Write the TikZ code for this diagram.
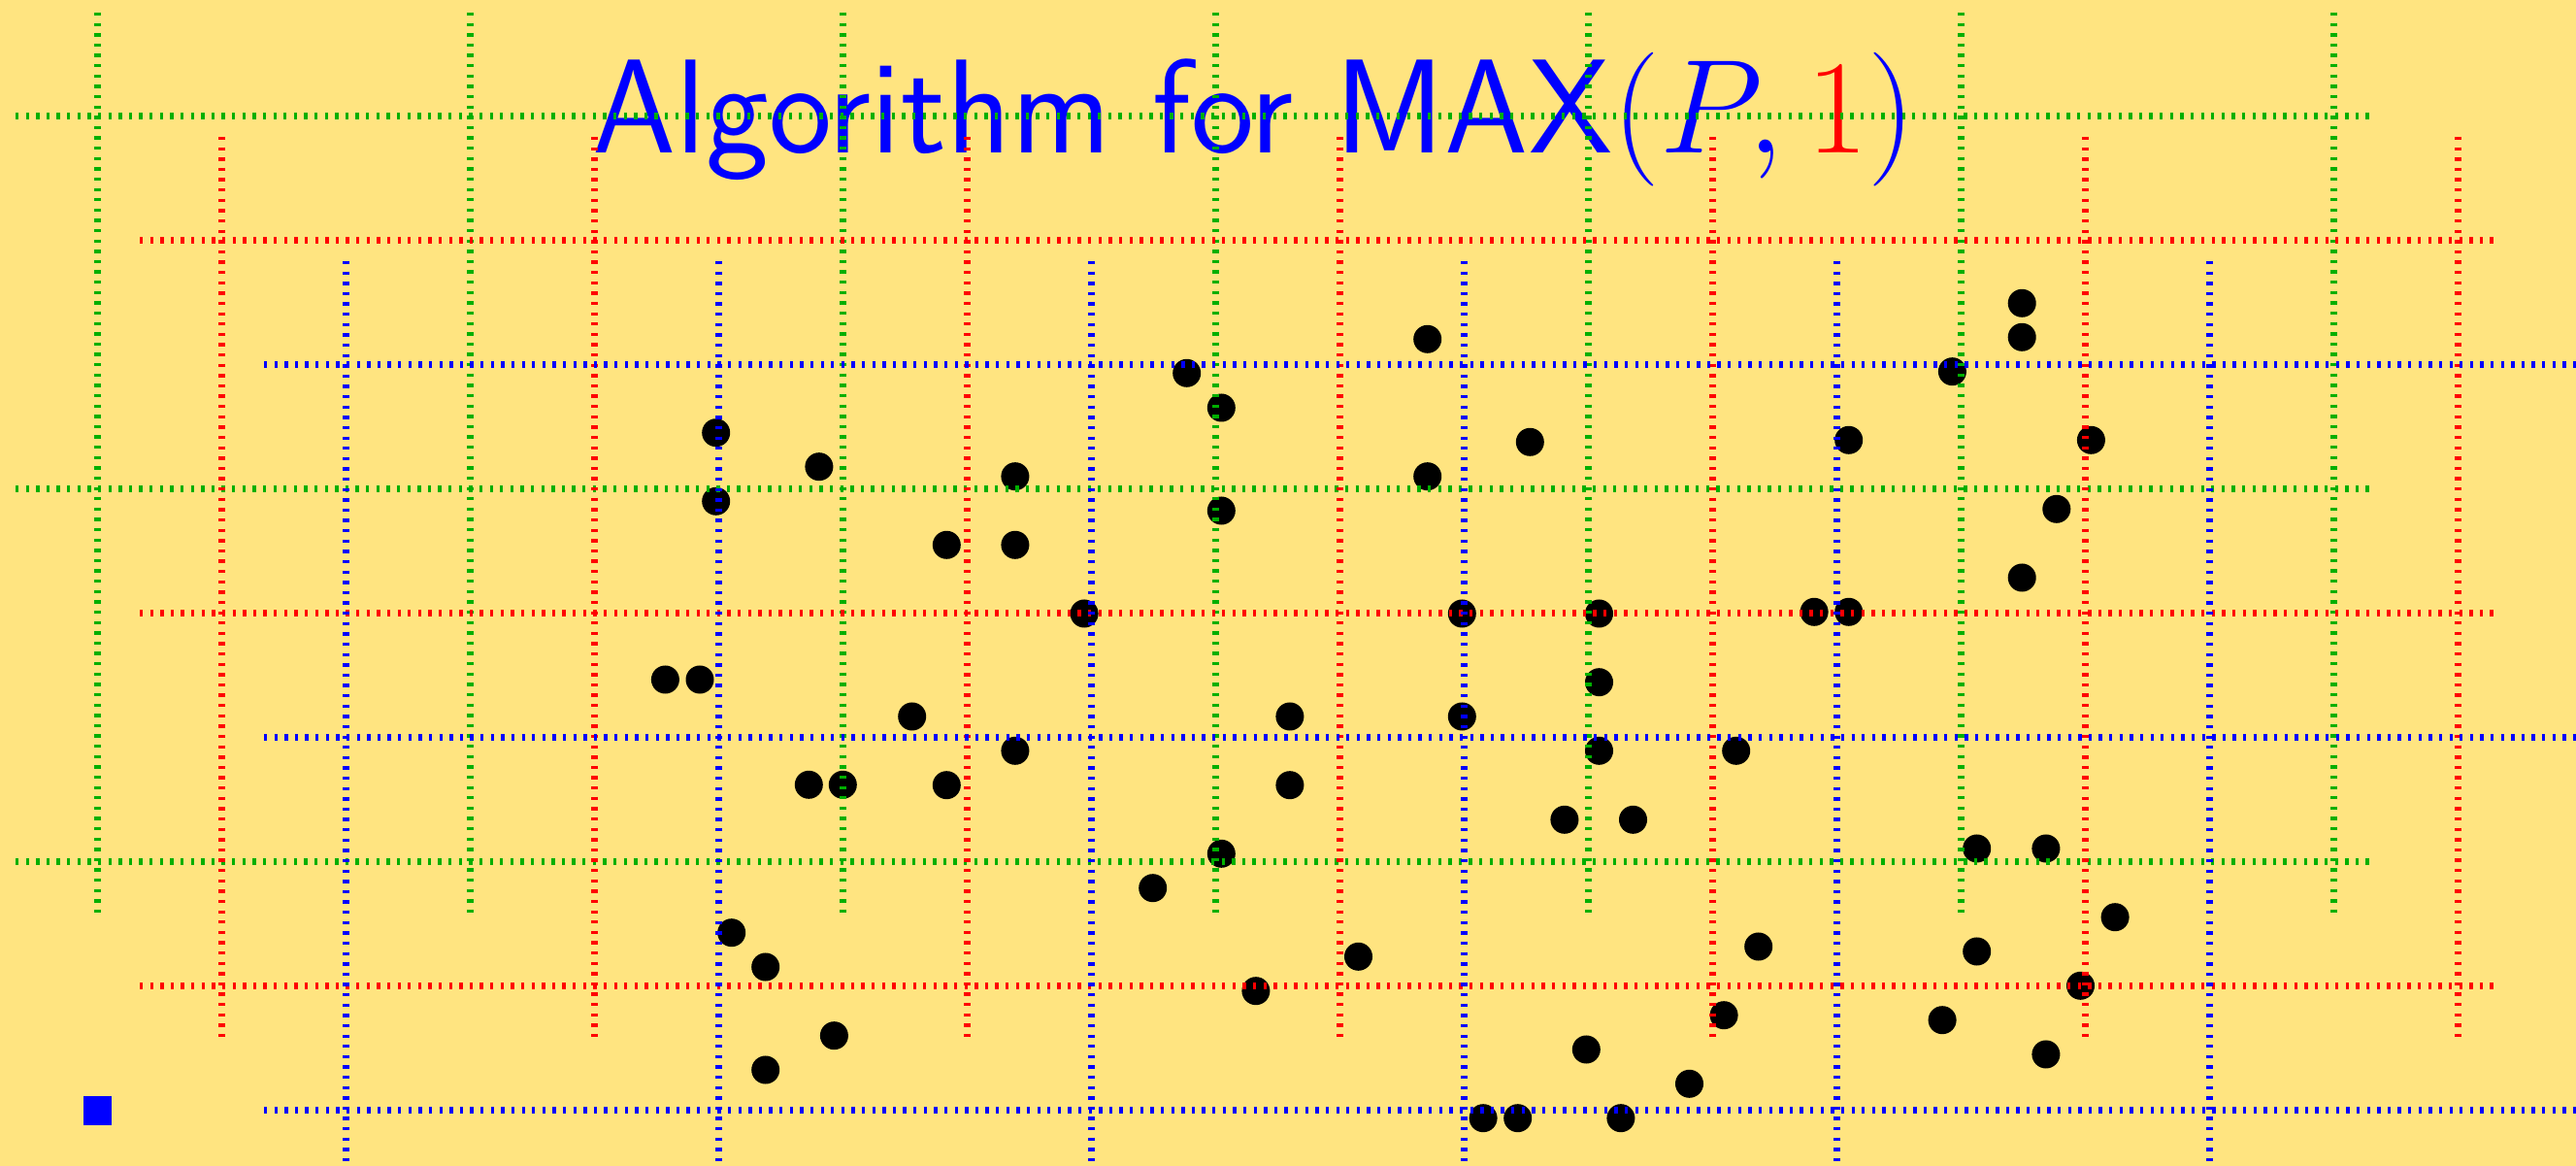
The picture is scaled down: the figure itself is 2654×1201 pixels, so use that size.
\RequirePackage{fix-cm}
\documentclass[tikz,border=0pt]{standalone}
\definecolor{bg}{RGB}{255,228,128}
\definecolor{gridgreen}{RGB}{0,175,0}
\begin{document}
\begin{tikzpicture}[x=0.01cm,y=-0.01cm,
  gl/.style={line width=0.066cm, dash pattern=on 0.95pt off 2.07pt},
  dot/.style={circle,fill=black,inner sep=0pt,minimum size=0.29cm},
  marker/.style={rectangle,fill=blue,inner sep=0pt,minimum size=0.29cm},
  titletext/.style={font=\sffamily\fontsize{39.2pt}{48pt}\selectfont, text=blue, inner sep=0pt, anchor=base west}]
\fill[bg] (0,0) rectangle (2654,1201);
\useasboundingbox (0,0) rectangle (2654,1201);
\node[titletext] (title) at (610,157.3) {Algorithm for MAX$(P,{\color{red}1})$};
\foreach \x/\y [count=\i] in {
2083.2/312.3, 2083.2/347.3, 1470.7/349.3, 1222.7/384.3, 2011.4/382.7,
1258.3/420, 737.7/445.7, 1576.3/455.3, 1904.7/453.3, 2154.4/453.3,
843.9/480.7, 1045.9/490.7, 1470.7/490.7, 737.7/516.3, 1258.3/526,
2118.8/524.3, 975.3/561.3, 1045.9/561.3, 2083.2/595, 1117.1/632,
1506.3/632, 1647.5/632, 1869.1/630.3, 1904.7/630.3, 685.4/700,
721/700, 1647.5/702.7, 939.7/738, 1328.9/738, 1506.3/738,
1045.9/773.3, 1647.5/773.3, 1788.7/773.3, 833.3/808.3, 868.3/808.3,
975.3/808.7, 1328.9/808.7, 1611.9/844.3, 1682.5/844.3, 2036.7/874,
2107.9/874, 1258.3/879.3, 1187.7/914.7, 2179.1/944.7, 753.7/960.7,
1811.7/975, 2036.7/980, 1399.5/985.3, 788.7/996, 2143.5/1015.3,
1293.9/1020.7, 1776.1/1045.7, 2001.1/1050.7, 859.4/1066.7, 1634.3/1081,
2107.9/1086, 788.7/1102, 1740.5/1116.3, 1528.1/1151.7, 1563.7/1151.7,
1669.9/1151.7}
  \node[dot] (d\i) at (\x,\y) {};
\node[marker] (sq) at (100.5,1144) {};
\begin{scope}
\clip (0,0) rectangle (2654,1201);
% green grid
\foreach \k in {0,...,6}
  \draw[gl,gridgreen] ({100.5+384*\k},13) -- ({100.5+384*\k},943);
\foreach \j in {0,1,2}
  \draw[gl,gridgreen] (16,{119.3+384*\j}) -- (2444,{119.3+384*\j});
% red grid
\foreach \k in {0,...,6}
  \draw[gl,red] ({228.5+384*\k},141) -- ({228.5+384*\k},1071);
\foreach \j in {0,1,2}
  \draw[gl,red] (144,{247.3+384*\j}) -- (2572,{247.3+384*\j});
% blue grid
\foreach \k in {0,...,5}
  \draw[gl,blue] ({356.5+384*\k},269) -- ({356.5+384*\k},1199);
\foreach \j in {0,1,2}
  \draw[gl,blue] (272,{375.3+384*\j}) -- (2700,{375.3+384*\j});
\end{scope}
\end{tikzpicture}
\end{document}
